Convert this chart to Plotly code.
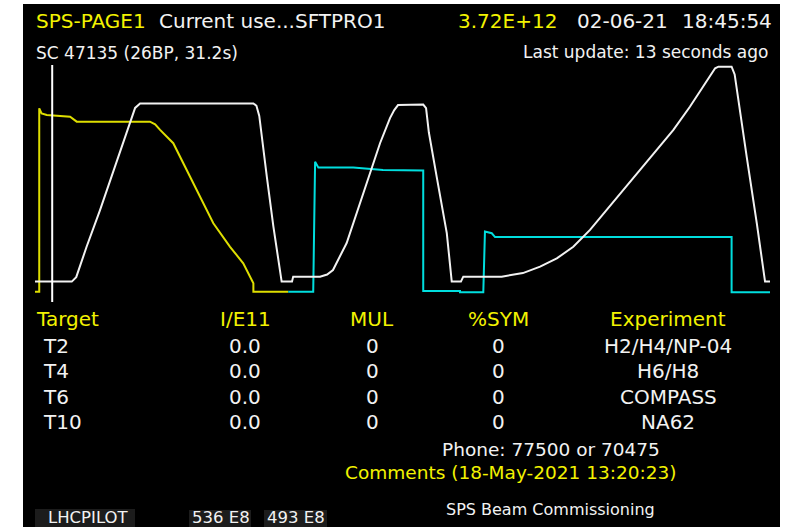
import plotly.graph_objects as go

# ---------------- data (time in s over the 31.2 s cycle, amplitude in % of full scale) -------------
white_t = [0.00, 1.56, 1.75, 2.19, 2.76, 3.61, 4.03, 4.25, 4.46, 9.27, 9.40, 9.52, 9.84, 10.12, 10.47,
           10.91, 10.96, 12.10, 12.40, 12.65, 13.23, 13.80, 14.22, 14.65, 15.07, 15.25, 15.41, 16.48,
           16.60, 16.72, 17.05, 17.48, 17.69, 18.08, 18.18, 19.81, 20.71, 21.44, 22.15, 22.85, 23.56,
           24.27, 24.97, 25.68, 26.39, 27.10, 27.80, 28.51, 28.87, 29.01, 29.57, 29.70, 29.82, 30.21,
           30.64, 30.99, 31.20]
white_v = [8.6, 8.6, 10.5, 23.3, 38.8, 62.9, 75.5, 81.9, 83.8, 83.8, 82.8, 78.5, 52.9, 31.8, 8.6,
           8.6, 10.7, 10.7, 11.6, 13.5, 24.9, 41.8, 54.4, 67.1, 77.6, 81.0, 83.1, 83.3,
           81.8, 71.5, 52.9, 29.1, 8.6, 8.6, 10.7, 10.7, 12.2, 14.9, 18.4, 23.3, 30.4,
           38.8, 47.3, 55.7, 64.1, 72.6, 82.4, 93.0, 98.6, 99.3, 99.3, 96.0, 87.5, 61.3,
           33.2, 8.6, 8.6]

yellow_t = [0.00, 0.18, 0.18, 0.28, 0.50, 1.06, 1.49, 1.77, 4.88, 5.10, 5.31, 5.87, 6.44, 7.00,
            7.57, 8.28, 8.84, 9.27, 9.27, 10.75]
yellow_v = [4.35, 4.35, 81.7, 79.6, 78.9, 78.5, 78.2, 76.1, 76.1, 75.0, 72.6, 67.0, 55.7, 44.4,
            33.2, 23.3, 16.3, 7.9, 4.35, 4.35]

cyan_t = [10.75, 11.81, 11.89, 11.97, 12.03, 13.51, 14.22, 14.77, 16.48, 16.48, 18.04, 18.04,
          19.03, 19.10, 19.39, 19.53, 29.57, 29.57, 31.20]
cyan_v = [4.35, 4.35, 59.2, 57.8, 56.7, 56.7, 56.0, 55.7, 55.5, 4.64, 4.64, 4.09,
          4.09, 29.7, 29.0, 27.4, 27.4, 4.09, 4.09]

cursor_t = 0.73

header_title = "SPS-PAGE1"
header_user = "Current use...SFTPRO1"
header_intensity = "3.72E+12"
header_date = "02-06-21"
header_time = "18:45:54"
header_sc = "SC 47135 (26BP, 31.2s)"
header_update = "Last update: 13 seconds ago"

table_cols = ["Target", "I/E11", "MUL", "%SYM", "Experiment"]
targets = ["T2", "T4", "T6", "T10"]
intensities = ["0.0", "0.0", "0.0", "0.0"]
multiplicities = ["0", "0", "0", "0"]
symmetries = ["0", "0", "0", "0"]
experiments = ["H2/H4/NP-04", "H6/H8", "COMPASS", "NA62"]

phone_text = "Phone: 77500 or 70475"
comments_text = "Comments (18-May-2021 13:20:23)"
status_text = "SPS Beam Commissioning"
bottom_labels = ["LHCPILOT", "536 E8", "493 E8"]

# ---------------- layout geometry (pixels) ----------------
W, H = 793, 527
PL, PR, PT, PB = 35, 770, 65, 302   # plot area in pixels

def px(x):
    return (x - PL) / (PR - PL)

def py(y):
    return (PB - y) / (PB - PT)

YEL = "#f2f200"
YEL_LINE = "#dede00"
WHT = "#f2f2f2"
CYA = "#00dede"
FONT = "DejaVu Sans"

fig = go.Figure()
fig.add_trace(go.Scatter(x=yellow_t, y=yellow_v, mode="lines",
                         line=dict(color=YEL_LINE, width=2), hoverinfo="skip"))
fig.add_trace(go.Scatter(x=cyan_t, y=cyan_v, mode="lines",
                         line=dict(color=CYA, width=2), hoverinfo="skip"))
fig.add_trace(go.Scatter(x=white_t, y=white_v, mode="lines",
                         line=dict(color=WHT, width=2), hoverinfo="skip"))
fig.add_vline(x=cursor_t, line=dict(color="#ffffff", width=2))

shapes = [
    dict(type="rect", xref="paper", yref="paper", x0=px(23), x1=px(780), y0=py(H + 2), y1=py(4),
         fillcolor="#000000", line=dict(width=0), layer="below"),
    dict(type="rect", xref="paper", yref="paper", x0=px(35), x1=px(135), y0=py(H + 2), y1=py(509),
         fillcolor="#1c1c1c", line=dict(width=0), layer="below"),
    dict(type="rect", xref="paper", yref="paper", x0=px(189), x1=px(251), y0=py(H + 2), y1=py(510),
         fillcolor="#1c1c1c", line=dict(width=0), layer="below"),
    dict(type="rect", xref="paper", yref="paper", x0=px(264), x1=px(327), y0=py(H + 2), y1=py(510),
         fillcolor="#1c1c1c", line=dict(width=0), layer="below"),
]
for s in shapes:
    fig.add_shape(**s)

ann = []

def txt(text, x, y, color=WHT, size=20, xanchor="left"):
    ann.append(dict(text=text, x=px(x), y=py(y), xref="paper", yref="paper",
                    xanchor=xanchor, yanchor="middle", showarrow=False,
                    font=dict(family=FONT, size=size, color=color)))

# header
txt(header_title, 34, 21.5, YEL, 20)
txt(header_user, 157, 21.5, WHT, 20)
txt(header_intensity, 456, 21.5, YEL, 20)
txt(header_date, 575, 21.5, WHT, 20)
txt(header_time, 680, 21.5, WHT, 20)
txt(header_sc, 34, 53, WHT, 17)
txt(header_update, 770, 52, WHT, 17, "right")

# table
col_x = [34, 245, 372, 498, 668]
col_anchor = ["left", "center", "center", "center", "center"]
for name, x, a in zip(table_cols, col_x, col_anchor):
    txt(name, x, 318.5, YEL, 20, a)
row_y = [345.5, 370.5, 396.5, 422]
for i, yy in enumerate(row_y):
    txt(targets[i], 41, yy, WHT, 20, "left")
    txt(intensities[i], col_x[1], yy, WHT, 20, "center")
    txt(multiplicities[i], col_x[2], yy, WHT, 20, "center")
    txt(symmetries[i], col_x[3], yy, WHT, 20, "center")
    txt(experiments[i], col_x[4], yy, WHT, 20, "center")

txt(phone_text, 551, 449, WHT, 18.5, "center")
txt(comments_text, 510, 472, YEL, 18.5, "center")
txt(status_text, 550, 509, WHT, 16, "center")

txt(bottom_labels[0], 46, 517, WHT, 16.5)
txt(bottom_labels[1], 190, 517, WHT, 16.5)
txt(bottom_labels[2], 265, 517, WHT, 16.5)

fig.update_layout(
    width=W, height=H,
    margin=dict(l=PL, r=W - PR, t=PT, b=H - PB, autoexpand=False),
    paper_bgcolor="#ffffff", plot_bgcolor="rgba(0,0,0,0)",
    showlegend=False,
    annotations=ann,
    xaxis=dict(range=[0, 31.2], visible=False, fixedrange=True),
    yaxis=dict(range=[0, 100], visible=False, fixedrange=True),
)

fig.write_html("out.html", config=dict(displayModeBar=False),
               post_script="document.body.style.margin='0';document.body.style.overflow='hidden';")
